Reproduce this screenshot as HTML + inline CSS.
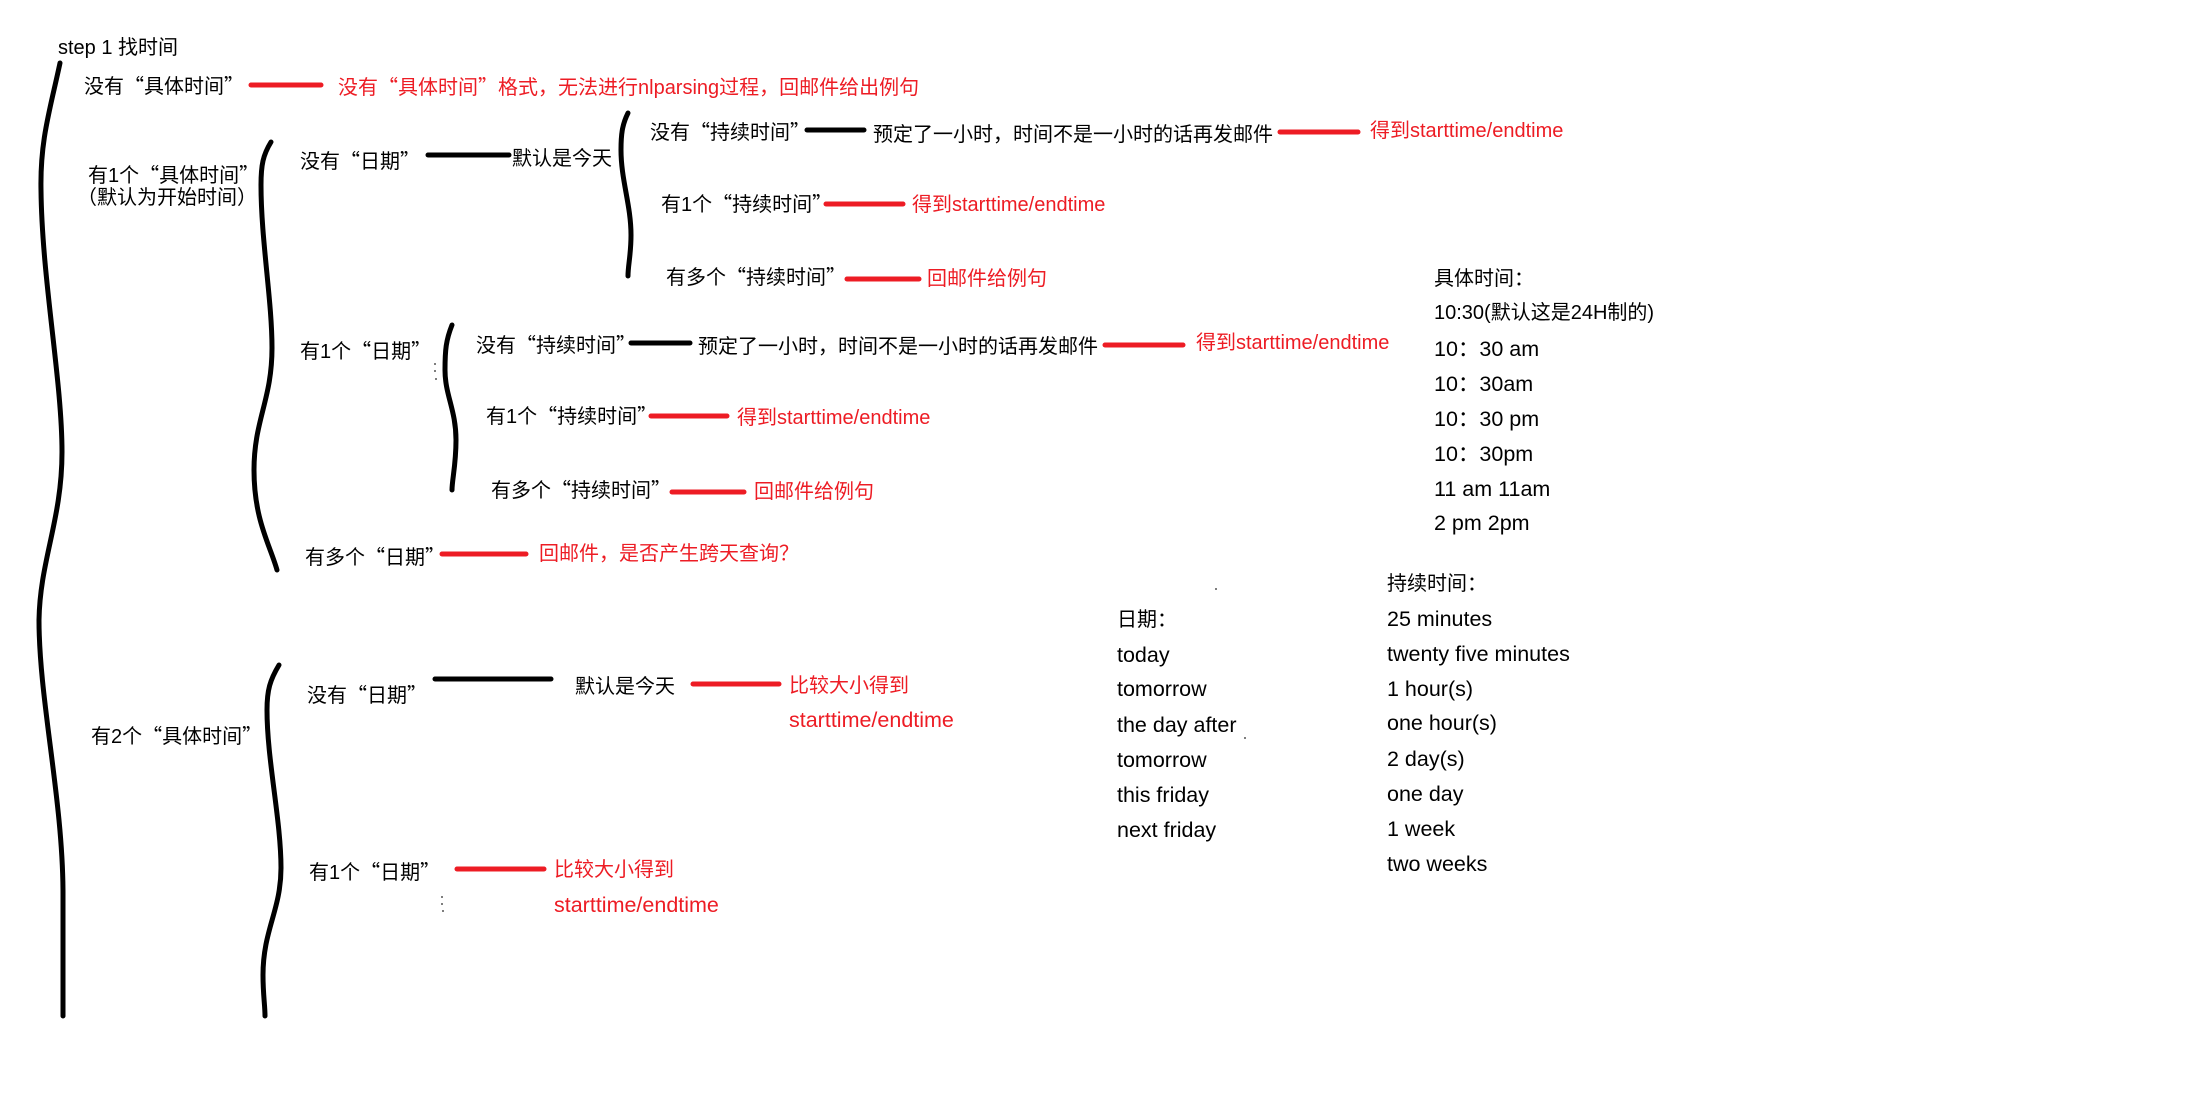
<!DOCTYPE html>
<html><head><meta charset="utf-8"><style>
html,body{margin:0;padding:0;background:#fff;}
body{width:2194px;height:1112px;position:relative;overflow:hidden;font-family:"Liberation Sans","Noto Sans CJK SC",sans-serif;font-size:20px;color:#000;}
.t{position:absolute;line-height:28px;white-space:nowrap;}
.r{color:#ed1c24;}
.l{font-size:21.5px;}
.q{font-family:"Noto Sans CJK SC",sans-serif;}
svg{position:absolute;left:0;top:0;}
</style></head><body>
<svg width="2194" height="1112" viewBox="0 0 2194 1112" fill="none" stroke-linecap="round">
<g stroke="#000" stroke-width="5">
<path d="M60 63 C50 110 40 140 41 190 C42 280 62 380 62 452 C62 520 40 560 39 620 C39 700 63 800 63 894 L63 1016"/>
<path d="M271 142 C263 155 261 165 261 185 C261 240 272 300 272 348 C272 400 254 420 254 470 C254 520 270 545 277 570"/>
<path d="M628 113 C622 125 621 135 621 150 C621 180 631 205 631 235 C631 255 628 265 628 276"/>
<path d="M452 325 C446 340 445 350 445 370 C445 395 456 410 456 440 C456 465 452 480 452 490"/>
<path d="M279 665 C270 680 267 690 267 710 C267 760 281 820 281 868 C281 910 263 930 263 975 C263 995 265 1005 265 1016"/>
<path d="M428 155 H509"/>
<path d="M807 130 H864"/>
<path d="M631 343 H690"/>
<path d="M435 679 H551"/>
</g>
<g stroke="#ed1c24" stroke-width="5">
<path d="M251 85 H321"/>
<path d="M1280 132 H1358"/>
<path d="M826 204 H903"/>
<path d="M847 279 H919"/>
<path d="M1105 345 H1183"/>
<path d="M651 416 H727"/>
<path d="M672 492 H744"/>
<path d="M442 554 H526"/>
<path d="M693 684 H779"/>
<path d="M457 869 H544"/>
</g>
<g fill="#555" stroke="none">
<circle cx="435" cy="364" r="1"/><circle cx="435" cy="371" r="1"/><circle cx="436" cy="379" r="1"/>
<circle cx="442" cy="897" r="1"/><circle cx="442" cy="904" r="1"/><circle cx="443" cy="911" r="1"/>
<circle cx="1216" cy="589" r="1"/><circle cx="1245" cy="738" r="1"/>
</g>
</svg>

<div class="t" style="left:58px;top:34px">step 1 找时间</div>
<div class="t" style="left:84px;top:71px">没有<span class="q">“</span>具体时间<span class="q">”</span></div>
<div class="t r" style="left:338px;top:72px">没有<span class="q">“</span>具体时间<span class="q">”</span>格式，无法进行nlparsing过程，回邮件给出例句</div>

<div class="t" style="left:88px;top:160px">有1个<span class="q">“</span>具体时间<span class="q">”</span></div>
<div class="t" style="left:77px;top:184px">（默认为开始时间）</div>

<div class="t" style="left:300px;top:146px">没有<span class="q">“</span>日期<span class="q">”</span></div>
<div class="t" style="left:512px;top:145px">默认是今天</div>

<div class="t" style="left:650px;top:117px">没有<span class="q">“</span>持续时间<span class="q">”</span></div>
<div class="t" style="left:873px;top:121px">预定了一小时，时间不是一小时的话再发邮件</div>
<div class="t r" style="left:1370px;top:117px">得到starttime/endtime</div>

<div class="t" style="left:661px;top:189px">有1个<span class="q">“</span>持续时间<span class="q">”</span></div>
<div class="t r" style="left:912px;top:191px">得到starttime/endtime</div>

<div class="t" style="left:666px;top:262px">有多个<span class="q">“</span>持续时间<span class="q">”</span></div>
<div class="t r" style="left:927px;top:265px">回邮件给例句</div>

<div class="t" style="left:300px;top:336px">有1个<span class="q">“</span>日期<span class="q">”</span></div>
<div class="t" style="left:476px;top:330px">没有<span class="q">“</span>持续时间<span class="q">”</span></div>
<div class="t" style="left:698px;top:333px">预定了一小时，时间不是一小时的话再发邮件</div>
<div class="t r" style="left:1196px;top:329px">得到starttime/endtime</div>

<div class="t" style="left:486px;top:401px">有1个<span class="q">“</span>持续时间<span class="q">”</span></div>
<div class="t r" style="left:737px;top:404px">得到starttime/endtime</div>

<div class="t" style="left:491px;top:475px">有多个<span class="q">“</span>持续时间<span class="q">”</span></div>
<div class="t r" style="left:754px;top:478px">回邮件给例句</div>

<div class="t" style="left:305px;top:542px">有多个<span class="q">“</span>日期<span class="q">”</span></div>
<div class="t r" style="left:539px;top:540px">回邮件，是否产生跨天查询？</div>

<div class="t" style="left:91px;top:721px">有2个<span class="q">“</span>具体时间<span class="q">”</span></div>
<div class="t" style="left:307px;top:680px">没有<span class="q">“</span>日期<span class="q">”</span></div>
<div class="t" style="left:575px;top:673px">默认是今天</div>
<div class="t r" style="left:789px;top:672px">比较大小得到</div>
<div class="t r l" style="left:789px;top:706px">starttime/endtime</div>

<div class="t" style="left:309px;top:857px">有1个<span class="q">“</span>日期<span class="q">”</span></div>
<div class="t r" style="left:554px;top:856px">比较大小得到</div>
<div class="t r l" style="left:554px;top:891px">starttime/endtime</div>

<div class="t" style="left:1434px;top:265px">具体时间：</div>
<div class="t" style="left:1434px;top:299px">10:30(默认这是24H制的)</div>
<div class="t l" style="left:1434px;top:335px">10：30 am</div>
<div class="t l" style="left:1434px;top:370px">10：30am</div>
<div class="t l" style="left:1434px;top:405px">10：30 pm</div>
<div class="t l" style="left:1434px;top:440px">10：30pm</div>
<div class="t l" style="left:1434px;top:475px">11 am 11am</div>
<div class="t l" style="left:1434px;top:509px">2 pm 2pm</div>

<div class="t" style="left:1387px;top:570px">持续时间：</div>
<div class="t l" style="left:1387px;top:605px">25 minutes</div>
<div class="t l" style="left:1387px;top:640px">twenty five minutes</div>
<div class="t l" style="left:1387px;top:675px">1 hour(s)</div>
<div class="t l" style="left:1387px;top:709px">one hour(s)</div>
<div class="t l" style="left:1387px;top:745px">2 day(s)</div>
<div class="t l" style="left:1387px;top:780px">one day</div>
<div class="t l" style="left:1387px;top:815px">1 week</div>
<div class="t l" style="left:1387px;top:850px">two weeks</div>

<div class="t" style="left:1117px;top:606px">日期：</div>
<div class="t l" style="left:1117px;top:641px">today</div>
<div class="t l" style="left:1117px;top:675px">tomorrow</div>
<div class="t l" style="left:1117px;top:711px">the day after</div>
<div class="t l" style="left:1117px;top:746px">tomorrow</div>
<div class="t l" style="left:1117px;top:781px">this friday</div>
<div class="t l" style="left:1117px;top:816px">next friday</div>
</body></html>
